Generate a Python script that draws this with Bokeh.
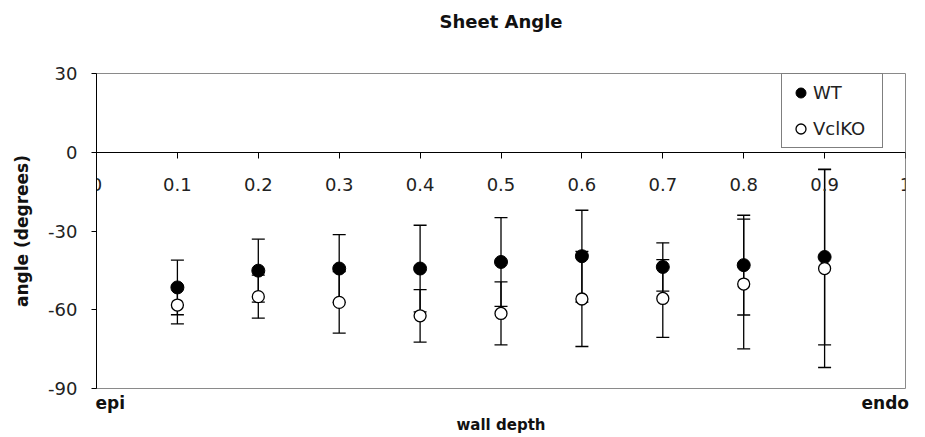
from bokeh.plotting import figure
from bokeh.models import (ColumnDataSource, Whisker, TeeHead, FixedTicker,
                          Legend, LegendItem, LinearAxis)
from bokeh.embed import file_html
from bokeh.resources import INLINE

# Wall depth (0 = epicardium, 1 = endocardium)
depth = [0.1, 0.2, 0.3, 0.4, 0.5, 0.6, 0.7, 0.8, 0.9]

# Sheet angle, mean and error (degrees)
wt_mean = [-51.5, -45.1, -44.3, -44.3, -41.8, -39.6, -43.7, -43.0, -39.9]
wt_err = [10.4, 12.0, 12.9, 16.5, 16.9, 17.5, 9.2, 19.0, 33.5]
ko_mean = [-58.2, -55.0, -57.2, -62.3, -61.4, -55.9, -55.7, -50.2, -44.3]
ko_err = [7.2, 8.2, 11.7, 10.0, 12.0, 18.1, 14.8, 24.7, 37.7]

x_ticks = [0, 0.1, 0.2, 0.3, 0.4, 0.5, 0.6, 0.7, 0.8, 0.9, 1]
x_tick_labels = ["0", "0.1", "0.2", "0.3", "0.4", "0.5", "0.6", "0.7", "0.8", "0.9", "1"]
y_ticks = [-90, -60, -30, 0, 30]
y_tick_labels = ["-90", "-60", "-30", "0", "30"]

# end labels of the wall-depth axis and where their centres sit
end_labels = ["epi", "endo"]
end_label_pos = [0.017, 0.975]

FONT = "DejaVu Sans"
TEXT = "#222222"
DARK = "#111111"


def make_source(mean, err):
    return ColumnDataSource(dict(
        x=depth, y=mean,
        upper=[m + e for m, e in zip(mean, err)],
        lower=[m - e for m, e in zip(mean, err)],
    ))


src_wt = make_source(wt_mean, wt_err)
src_ko = make_source(ko_mean, ko_err)

p = figure(width=925, height=437, x_range=(0, 1), y_range=(-90, 30),
           output_backend="svg", toolbar_location=None,
           min_border_left=96, min_border_right=20,
           min_border_top=73, min_border_bottom=49)

p.xgrid.visible = False
p.ygrid.visible = False
p.outline_line_color = "#8a8a8a"
p.outline_line_width = 1
p.background_fill_color = "white"
p.border_fill_color = "white"

# x axis crossing at angle = 0
xa = p.xaxis[0]
xa.fixed_location = 0
xa.ticker = FixedTicker(ticks=x_ticks)
xa.major_label_overrides = dict(zip(x_ticks, x_tick_labels))
xa.major_tick_out = 6
xa.major_tick_in = 0
xa.minor_tick_out = 0
xa.minor_tick_in = 0
xa.axis_line_color = "black"
xa.major_tick_line_color = "black"
xa.major_label_standoff = 20
xa.major_label_text_font = FONT
xa.major_label_text_font_size = "18px"
xa.major_label_text_color = TEXT

# epi / endo and the axis title along the bottom of the frame
da = LinearAxis(ticker=FixedTicker(ticks=end_label_pos),
                major_label_overrides=dict(zip(end_label_pos, end_labels)),
                axis_line_color=None, major_tick_line_color=None,
                minor_tick_line_color=None, major_tick_out=0, minor_tick_out=0,
                major_label_standoff=4,
                major_label_text_font=FONT, major_label_text_font_style="bold",
                major_label_text_font_size="17px", major_label_text_color=DARK,
                axis_label="wall depth", axis_label_standoff=0,
                axis_label_text_font=FONT, axis_label_text_font_style="bold",
                axis_label_text_font_size="15px", axis_label_text_color=DARK)
p.add_layout(da, "below")

ya = p.yaxis[0]
ya.ticker = FixedTicker(ticks=y_ticks)
ya.major_label_overrides = dict(zip(y_ticks, y_tick_labels))
ya.major_tick_out = 5
ya.major_tick_in = 0
ya.minor_tick_out = 0
ya.minor_tick_in = 0
ya.axis_line_color = "black"
ya.major_tick_line_color = "black"
ya.major_label_standoff = 14
ya.major_label_text_font = FONT
ya.major_label_text_font_size = "18px"
ya.major_label_text_color = TEXT
ya.axis_label = "angle (degrees)"
ya.axis_label_text_font = FONT
ya.axis_label_text_font_style = "bold"
ya.axis_label_text_font_size = "17px"
ya.axis_label_text_color = DARK
ya.axis_label_standoff = 13

# chart title, carried by a bare axis along the top of the frame
ta = LinearAxis(ticker=FixedTicker(ticks=[]), axis_line_color=None,
                major_tick_line_color=None, minor_tick_line_color=None,
                major_tick_out=0, major_tick_in=0,
                minor_tick_out=0, minor_tick_in=0,
                axis_label="Sheet Angle", axis_label_standoff=42,
                axis_label_text_font=FONT, axis_label_text_font_style="bold",
                axis_label_text_font_size="18px", axis_label_text_color=DARK)
p.add_layout(ta, "above")

# error bars
for src in (src_wt, src_ko):
    w = Whisker(source=src, base="x", upper="upper", lower="lower",
                dimension="height", line_color="black", line_width=1.3,
                upper_head=TeeHead(size=13, line_color="black", line_width=1.3),
                lower_head=TeeHead(size=13, line_color="black", line_width=1.3),
                level="underlay")
    p.add_layout(w)

r_wt = p.scatter("x", "y", source=src_wt, size=13, marker="circle",
                 fill_color="black", line_color="black", line_width=1)
r_ko = p.scatter("x", "y", source=src_ko, size=12, marker="circle",
                 fill_color="white", line_color="black", line_width=1.3)

legend = Legend(items=[LegendItem(label="WT", renderers=[r_wt]),
                       LegendItem(label="VclKO", renderers=[r_ko])],
                location=(685, 240), orientation="vertical",
                border_line_color="black", border_line_width=1,
                background_fill_color="white", background_fill_alpha=1,
                padding=6, spacing=11, margin=0,
                glyph_width=25, glyph_height=25, label_height=25,
                label_standoff=0, label_width=63,
                label_text_font=FONT, label_text_font_size="18px",
                label_text_color=TEXT)
p.add_layout(legend)

open("out.html", "w").write(file_html(p, INLINE))
